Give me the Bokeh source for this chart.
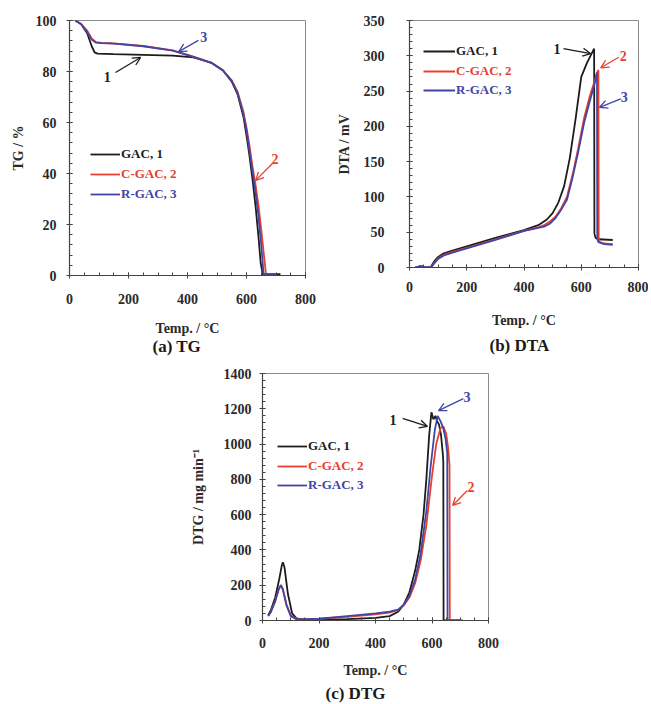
from bokeh.plotting import figure
from bokeh.layouts import column, row
from bokeh.models import (FixedTicker, Legend, LegendItem, Label, Arrow,
                          OpenHead, Range1d, Spacer, Title)
from bokeh.embed import file_html
from bokeh.resources import INLINE

# ---------------- data ----------------
series_names = ["GAC, 1", "C-GAC, 2", "R-GAC, 3"]
series_colors = ["#1c1c1c", "#e8402f", "#4146a6"]

# (a) TG
tg_t1 = [20, 40, 60, 75, 85, 95, 150, 250, 350, 420, 480, 520, 550, 570, 590, 600, 610, 620, 630, 640, 648, 655, 700, 715]
tg_v1 = [100, 98.5, 95, 90, 87.5, 87, 86.8, 86.5, 86.2, 85.5, 83.5, 80.5, 76, 71, 62, 55, 47, 38, 28, 16, 5, 0.5, 0.5, 0.5]
tg_t2 = [20, 40, 60, 75, 90, 110, 150, 250, 350, 420, 480, 520, 550, 570, 590, 600, 610, 620, 630, 640, 650, 660, 666, 700]
tg_v2 = [100, 98.5, 96, 93, 91.5, 91.2, 91, 90, 88.3, 85.8, 83.5, 80.5, 76.5, 72, 64, 58, 51, 43, 36, 28, 18, 7, 0.5, 0.5]
tg_t3 = [20, 40, 60, 75, 90, 110, 150, 250, 350, 420, 480, 520, 550, 570, 590, 600, 610, 620, 630, 640, 650, 658, 700]
tg_v3 = [100, 98.5, 95.5, 92.5, 91.3, 91.1, 90.9, 89.9, 88.2, 85.7, 83.4, 80.4, 76.3, 71.5, 63, 57, 49, 41, 33, 24, 12, 0.5, 0.5]

# (b) DTA
dta_t1 = [20, 40, 60, 75, 85, 100, 120, 150, 200, 300, 400, 450, 480, 500, 520, 540, 560, 580, 600, 620, 635, 645, 646, 650, 660, 710]
dta_v1 = [0, 2, 0, 1, 8, 15, 20, 24, 30, 42, 53, 60, 68, 77, 92, 115, 155, 210, 270, 290, 302, 310, 48, 42, 40, 39]
dta_t2 = [20, 40, 60, 75, 85, 100, 120, 150, 200, 300, 400, 450, 470, 490, 510, 530, 550, 570, 590, 610, 630, 645, 655, 660, 661, 665, 680, 710]
dta_v2 = [0, 2, 0, 0, 6, 13, 18, 22, 28, 40, 52, 57, 60, 65, 72, 84, 100, 132, 170, 212, 243, 262, 276, 280, 40, 36, 34, 33]
dta_t3 = [20, 40, 60, 75, 85, 100, 120, 150, 200, 300, 400, 450, 470, 490, 510, 530, 550, 570, 590, 610, 630, 645, 652, 655, 656, 660, 680, 710]
dta_v3 = [0, 2, 0, 0, 5, 12, 17, 21, 27, 39, 52, 56, 58, 62, 70, 82, 96, 128, 165, 205, 236, 258, 270, 276, 40, 36, 33, 32]

# (c) DTG
dtg_t1 = [20, 30, 45, 60, 68, 72, 78, 90, 105, 120, 150, 200, 300, 400, 450, 480, 500, 520, 540, 555, 570, 580, 590, 598, 605, 612, 618, 625, 632, 638, 640, 641, 660, 700]
dtg_v1 = [30, 60, 130, 240, 310, 330, 300, 150, 40, 12, 5, 5, 8, 15, 25, 50, 90, 160, 280, 400, 600, 800, 1050, 1180, 1140, 1160, 1130, 1110, 1050, 950, 900, 0, 0, 0]
dtg_t2 = [20, 30, 45, 58, 65, 72, 85, 100, 120, 150, 200, 300, 400, 450, 480, 500, 520, 540, 560, 580, 600, 615, 630, 640, 650, 657, 662, 663, 680, 700]
dtg_v2 = [25, 50, 110, 180, 200, 180, 90, 30, 10, 8, 10, 20, 35, 45, 60, 85, 130, 210, 340, 540, 820, 1000, 1090, 1100, 1060, 980, 880, 0, 0, 0]
dtg_t3 = [20, 30, 45, 58, 65, 72, 85, 100, 120, 150, 200, 300, 400, 450, 480, 500, 520, 540, 560, 580, 595, 610, 620, 630, 640, 648, 654, 655, 680, 710]
dtg_v3 = [25, 50, 110, 180, 200, 175, 85, 25, 8, 8, 10, 25, 40, 50, 62, 90, 140, 230, 380, 620, 870, 1080, 1160, 1130, 1090, 1030, 950, 0, 0, 0]

x_ticks = [0, 200, 400, 600, 800]
tg_ticks = [0, 20, 40, 60, 80, 100]
dta_ticks = [0, 50, 100, 150, 200, 250, 300, 350]
dtg_ticks = [0, 200, 400, 600, 800, 1000, 1200, 1400]

x_label = "Temp. / °C"

# callouts: (text, colour index, label x, label y, arrow x0, y0, x1, y1)
tg_callouts = [("1", 0, 128, 78, 156, 79.6, 241, 85.5),
               ("3", 2, 455, 93.5, 437, 92.2, 370, 87.8),
               ("2", 1, 697, 45.5, 688, 43.9, 631, 37.3)]
dta_callouts = [("1", 0, 515, 310, 538, 310, 633, 303),
                ("2", 1, 747, 300, 731, 298, 668, 283),
                ("3", 2, 750, 241, 738, 239, 664, 227)]
dtg_callouts = [("1", 0, 462, 1134, 496, 1145, 584, 1100),
                ("3", 2, 724, 1266, 711, 1258, 623, 1190),
                ("2", 1, 738, 756, 725, 737, 673, 652)]

SERIF = "Liberation Serif"


def make_panel(width, height, borders, y_max, yticks, yminor, ylabel, caption,
               ystand, ylab_stand, xstand, xlab_stand, cap_off, cap_stand,
               curves, callouts, leg_pos, leg_glyph_w):
    bl, br, bt, bb = borders
    p = figure(width=width, height=height, output_backend="svg",
               toolbar_location=None, x_range=Range1d(0, 800),
               y_range=Range1d(0, y_max),
               min_border_left=bl, min_border_right=br,
               min_border_top=bt, min_border_bottom=bb)
    p.background_fill_color = "white"
    p.border_fill_color = "white"
    p.outline_line_color = "#8a8a8a"
    p.outline_line_width = 1
    p.xgrid.visible = False
    p.ygrid.visible = False

    xminor = [v for v in range(0, 801, 50)]
    p.xaxis.ticker = FixedTicker(ticks=x_ticks, minor_ticks=xminor)
    p.yaxis.ticker = FixedTicker(ticks=yticks, minor_ticks=yminor)
    for ax in (p.xaxis, p.yaxis):
        ax.axis_line_color = "#444444"
        ax.axis_line_width = 1.2
        ax.major_tick_line_color = "#444444"
        ax.minor_tick_line_color = "#444444"
        ax.major_tick_in = 3
        ax.major_tick_out = 3
        ax.minor_tick_in = 3
        ax.minor_tick_out = 0
        ax.major_label_text_font = SERIF
        ax.major_label_text_font_style = "bold"
        ax.major_label_text_font_size = "14px"
        ax.major_label_text_color = "#2a2a2a"
        ax.axis_label_text_font = SERIF
        ax.axis_label_text_font_style = "bold"
        ax.axis_label_text_font_size = "14px"
        ax.axis_label_text_color = "#2a2a2a"
    p.xaxis.major_label_standoff = xstand
    p.yaxis.major_label_standoff = ystand
    p.yaxis.axis_label = ylabel
    p.yaxis.axis_label_standoff = ylab_stand
    p.xaxis.axis_label = x_label
    p.xaxis.axis_label_standoff = xlab_stand

    p.add_layout(Title(text=caption, align="left", offset=cap_off,
                       standoff=cap_stand, text_font=SERIF,
                       text_font_style="bold", text_font_size="17px",
                       text_color="#1a1a1a"), "below")

    renderers = []
    for (xs, ys), c in zip(curves, series_colors):
        r = p.line(xs, ys, line_color=c, line_width=1.8)
        renderers.append(r)

    # one legend per series so each label can take its series colour
    vx, vys = leg_pos
    for r, name, c, vy in zip(renderers, series_names, series_colors, vys):
        lg = Legend(items=[LegendItem(label=name, renderers=[r])],
                    location=(vx, vy), margin=0, padding=0, spacing=0,
                    glyph_width=leg_glyph_w, glyph_height=14, label_height=14,
                    label_standoff=1, border_line_color=None,
                    background_fill_alpha=0,
                    label_text_font=SERIF, label_text_font_style="bold",
                    label_text_font_size="13px", label_text_color=c)
        p.add_layout(lg, "center")

    for txt, ci, lx, ly, x0, y0, x1, y1 in callouts:
        c = series_colors[ci]
        p.add_layout(Arrow(end=OpenHead(size=8, line_color=c, line_width=1.3),
                           x_start=x0, y_start=y0, x_end=x1, y_end=y1,
                           line_color=c, line_width=1.3))
        p.add_layout(Label(x=lx, y=ly, text=txt, text_align="center",
                           text_baseline="middle", text_font=SERIF,
                           text_font_style="bold", text_font_size="14px",
                           text_color=c))
    return p


pa = make_panel(328, 366, (69, 23, 20, 91), 100, tg_ticks,
                list(range(0, 101, 4)), "TG / %", "(a) TG",
                10, 7, 15, 14, 83, -8,
                [(tg_t1, tg_v1), (tg_t2, tg_v2), (tg_t3, tg_v3)],
                tg_callouts, (21, [113, 93, 73]), 30)

pb = make_panel(320, 358, (81, 10, 20, 91), 350, dta_ticks,
                list(range(0, 351, 10)), "DTA / mV", "(b) DTA",
                22, 9, 11, 18, 80, 6,
                [(dta_t1, dta_v1), (dta_t2, dta_v2), (dta_t3, dta_v3)],
                dta_callouts, (14, [208, 188, 169]), 32)

pc = make_panel(330, 338, (82, 22, 7, 84), 1400, dtg_ticks,
                list(range(0, 1401, 40)), "DTG / mg min⁻¹", "(c) DTG",
                8, 15, 14, 12, 63, 3,
                [(dtg_t1, dtg_v1), (dtg_t2, dtg_v2), (dtg_t3, dtg_v3)],
                dtg_callouts, (15, [166, 146, 127]), 30)

layout = column(row(pa, pb), row(Spacer(width=180, height=10), pc))

open("out.html", "w").write(file_html(layout, INLINE))
